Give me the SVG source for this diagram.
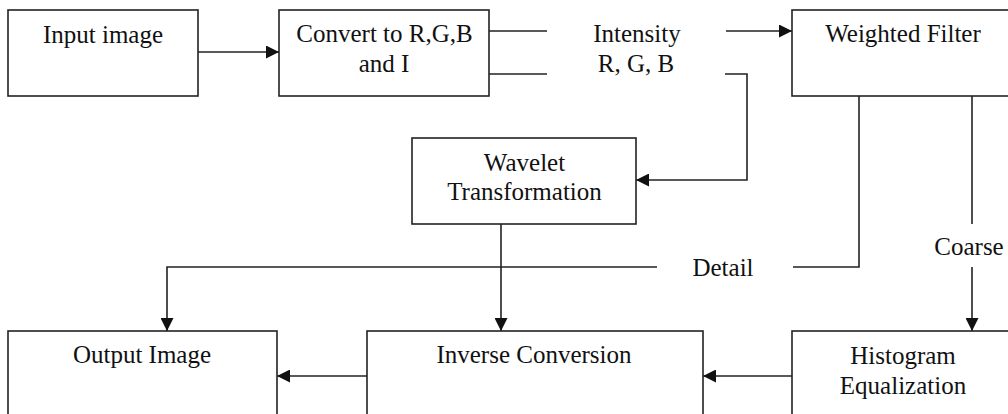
<svg xmlns="http://www.w3.org/2000/svg" width="1008" height="414" viewBox="0 0 1008 414">
<style>
.box{fill:#fff;stroke:#222;stroke-width:1.6}
.ln{fill:none;stroke:#222;stroke-width:1.6}
.t{font-family:"Liberation Serif","Times New Roman",serif;font-size:25px;fill:#111;text-anchor:middle}
</style>
<defs>
<marker id="ah" markerUnits="userSpaceOnUse" markerWidth="13" markerHeight="13" refX="13" refY="6.5" orient="auto">
<path d="M0,0 L13,6.5 L0,13 z" fill="#111"/>
</marker>
</defs>
<rect width="1008" height="414" fill="#fff"/>
<g id="connectors">
<path class="ln" d="M198,52 H279" marker-end="url(#ah)"/>
<path class="ln" d="M489,31 H547"/>
<path class="ln" d="M489,74 H547"/>
<path class="ln" d="M726,31 H792" marker-end="url(#ah)"/>
<path class="ln" d="M725,74 H747 V180 H636" marker-end="url(#ah)"/>
<path class="ln" d="M859,96 V267 H793"/>
<path class="ln" d="M657,267 H167 V331" marker-end="url(#ah)"/>
<path class="ln" d="M501,224 V331" marker-end="url(#ah)"/>
<path class="ln" d="M972,96 V224"/>
<path class="ln" d="M972,267 V331" marker-end="url(#ah)"/>
<path class="ln" d="M367,376 H277" marker-end="url(#ah)"/>
<path class="ln" d="M792,376 H703" marker-end="url(#ah)"/>
<text class="t" x="637" y="42">Intensity</text>
<text class="t" x="636" y="72">R, G, B</text>
<text class="t" x="723" y="276">Detail</text>
<text class="t" x="969" y="255">Coarse</text>
</g>
<g id="input">
<rect class="box" x="8" y="10" width="190" height="86"/>
<text class="t" x="103" y="43">Input image</text>
</g>
<g id="convert">
<rect class="box" x="279" y="10" width="210" height="86"/>
<text class="t" x="384.5" y="42">Convert to R,G,B</text>
<text class="t" x="384" y="72">and I</text>
</g>
<g id="weighted">
<rect class="box" x="792" y="10" width="230" height="86"/>
<text class="t" x="903" y="42">Weighted Filter</text>
</g>
<g id="wavelet">
<rect class="box" x="412" y="138" width="224" height="86"/>
<text class="t" x="524.5" y="171">Wavelet</text>
<text class="t" x="524.5" y="200">Transformation</text>
</g>
<g id="output">
<rect class="box" x="8" y="331" width="269" height="110"/>
<text class="t" x="142" y="363">Output Image</text>
</g>
<g id="inverse">
<rect class="box" x="367" y="331" width="336" height="110"/>
<text class="t" x="534" y="363">Inverse Conversion</text>
</g>
<g id="histogram">
<rect class="box" x="792" y="331" width="230" height="110"/>
<text class="t" x="903" y="364">Histogram</text>
<text class="t" x="903" y="394">Equalization</text>
</g>
</svg>
